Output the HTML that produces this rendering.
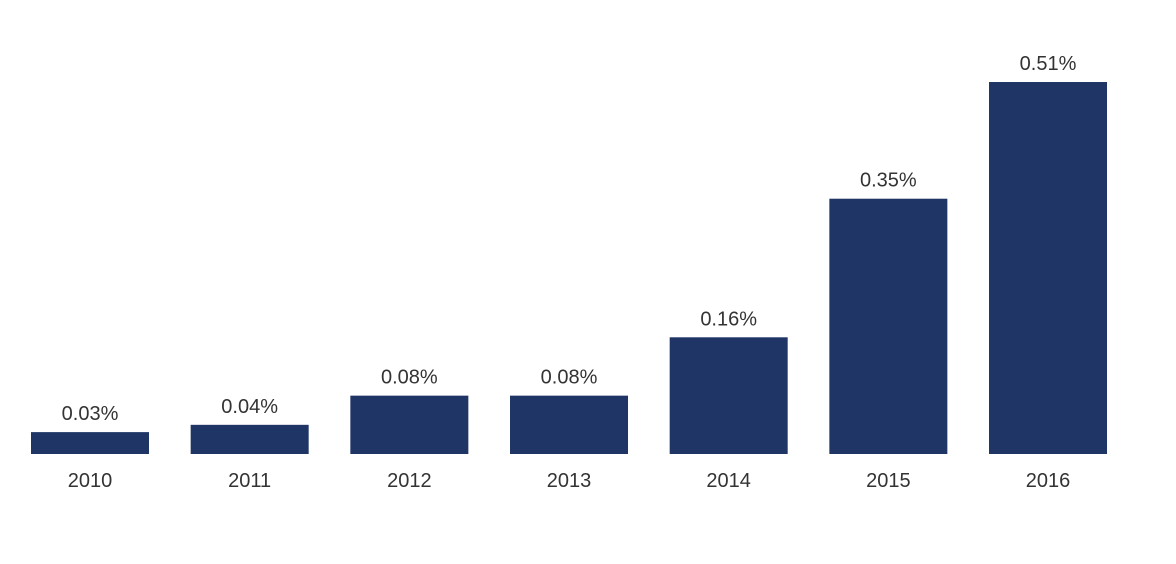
<!DOCTYPE html>
<html><head><meta charset="utf-8"><style>
html,body{margin:0;padding:0;background:#fff;width:1176px;height:564px;overflow:hidden}
svg text{font-family:"Liberation Sans",sans-serif;fill:#333}
</style></head><body>
<svg id="chart" width="1176" height="564" xmlns="http://www.w3.org/2000/svg"></svg>
<script>
const categories=["2010","2011","2012","2013","2014","2015","2016"];
const values=[0.03,0.04,0.08,0.08,0.16,0.35,0.51];
const valueLabels=["0.03%","0.04%","0.08%","0.08%","0.16%","0.35%","0.51%"];
const svg=document.getElementById('chart');
const NS='http://www.w3.org/2000/svg';
const baseY=454, pxPerUnit=729.4, x0=90, step=159.67, bw=118;
const xScale=i=>x0+i*step;
const yScale=v=>baseY-v*pxPerUnit;
categories.forEach((c,i)=>{
  const cx=xScale(i), top=yScale(values[i]);
  const r=document.createElementNS(NS,'rect');
  
  
  r.setAttribute('x',cx-bw/2);r.setAttribute('y',top);
  r.setAttribute('width',bw);r.setAttribute('height',baseY-top);
  r.setAttribute('fill','#1f3566');
  svg.appendChild(r);
  const t=document.createElementNS(NS,'text');
  
  
  t.setAttribute('x',cx);t.setAttribute('y',top-12);
  t.setAttribute('text-anchor','middle');t.setAttribute('font-size','20');
  t.textContent=valueLabels[i];
  svg.appendChild(t);
  const a=document.createElementNS(NS,'text');
  
  
  a.setAttribute('x',cx);a.setAttribute('y',487);
  a.setAttribute('text-anchor','middle');a.setAttribute('font-size','20');
  a.textContent=c;
  svg.appendChild(a);
});
</script>
</body></html>
